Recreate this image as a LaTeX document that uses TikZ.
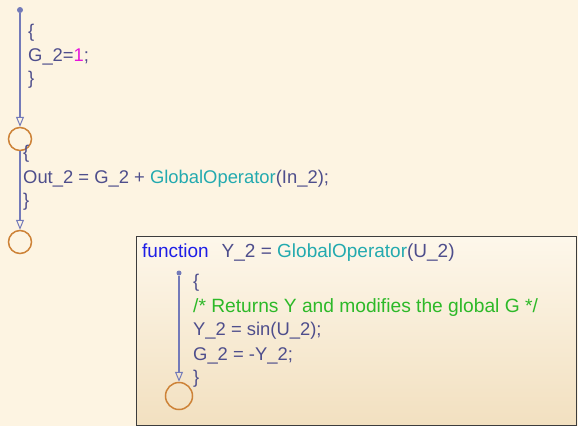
\documentclass[tikz,border=0pt]{standalone}
\usepackage{fontspec}
\setmainfont{Liberation Sans}
\definecolor{chartbg}{RGB}{253,244,226}
\definecolor{codetext}{RGB}{78,78,140}
\definecolor{fnteal}{RGB}{35,170,175}
\definecolor{cmtgreen}{RGB}{45,185,40}
\definecolor{numpink}{RGB}{230,20,220}
\definecolor{kwblue}{RGB}{30,30,230}
\definecolor{wire}{RGB}{115,122,185}
\definecolor{junction}{RGB}{205,130,55}
\definecolor{boxedge}{RGB}{60,60,60}
\usetikzlibrary{arrows.meta}

\begin{document}
\begin{tikzpicture}[x=1pt, y=-1pt, >={Triangle[open,length=10pt,width=8pt,line width=1pt]},
    code/.style={anchor=base west, inner sep=0pt, text=codetext, font=\fontsize{18.4}{22}\selectfont},
    conn/.style={circle, draw=junction, line width=1.5pt, minimum size=23pt, inner sep=0pt},
    dot/.style={circle, fill=wire, inner sep=0pt, minimum size=6pt},
    wireline/.style={->, draw=wire, line width=1.8pt}]
    % Chart background
    \fill[chartbg] (0,0) rectangle (578,426);
    \useasboundingbox (0,0) rectangle (578,426);

    % Main flow
    \node[dot] (start) at (20,10) {};
    \node[conn] (c1) at (20,139) {};
    \node[conn] (c2) at (20,242) {};
    \draw[wireline] (start) -- (c1.north);
    \draw[wireline] (c1.south) -- (c2.north);

    % First transition action
    \node[code] (open1) at (28,37) {\{};
    \node[code] (assign1) at (28,61) {G\_2=\textcolor{numpink}{1};};
    \node[code] (close1) at (28,84) {\}};

    % Second transition action
    \node[code] (open2) at (23,158) {\{};
    \node[code] (assign2) at (23,183) {Out\_2 = G\_2 + \textcolor{fnteal}{GlobalOperator}(In\_2);};
    \node[code] (close2) at (23,206) {\}};

    % Graphical function box
    \node[draw=boxedge, line width=1.2pt, top color=chartbg!70!white, bottom color={rgb,255:red,242;green,224;blue,192},
          minimum width=440pt, minimum height=189pt, anchor=north west] (fnbox) at (135.5,235.5) {};
    \node[code, font=\fontsize{19}{22}\selectfont] (fnhead) at (142,257)
        {\textcolor{kwblue}{function}\hspace{13pt}Y\_2 = \textcolor{fnteal}{GlobalOperator}(U\_2)};

    % Flow inside the function
    \node[dot, minimum size=5pt] (fstart) at (179,273) {};
    \node[conn, minimum size=27pt] (c3) at (179,396) {};
    \draw[wireline, line width=1.2pt] (fstart) -- (c3.north);

    \node[code] (open3) at (193,287) {\{};
    \node[code, text=cmtgreen, font=\fontsize{19.2}{22}\selectfont] (comment) at (193,312) {/* Returns Y and modifies the global G */};
    \node[code] (assign3) at (193,335) {Y\_2 = sin(U\_2);};
    \node[code] (assign4) at (193,360) {G\_2 = -Y\_2;};
    \node[code] (close3) at (193,383) {\}};
\end{tikzpicture}
\end{document}
